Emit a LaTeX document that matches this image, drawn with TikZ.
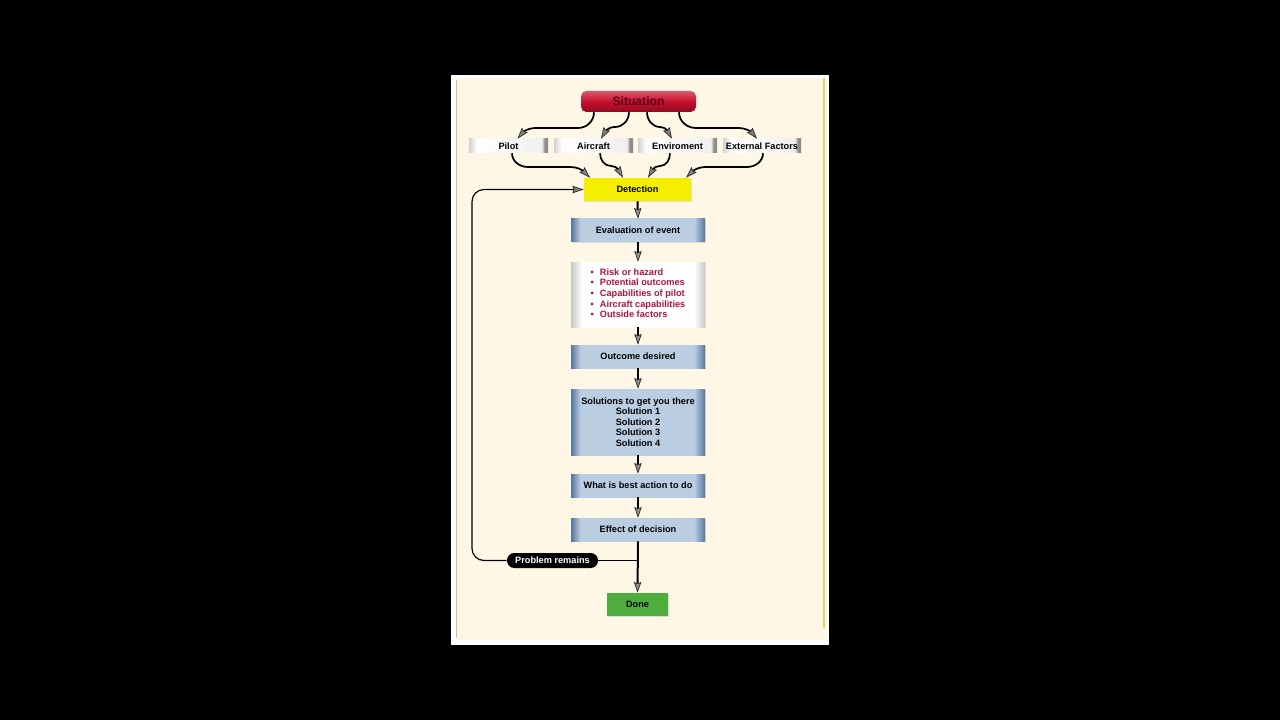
\documentclass[tikz,border=0pt]{standalone}
\usepackage{fontspec}
\setmainfont{Liberation Sans}
\usetikzlibrary{arrows.meta,calc,shadows}
\definecolor{cream}{HTML}{FEF7E6}
\definecolor{bdk}{HTML}{56769E}
\definecolor{blt}{HTML}{BACDE1}
\definecolor{sitred}{HTML}{C8102E}
\definecolor{sitdk}{HTML}{8E0A22}
\definecolor{sittxt}{HTML}{5A0014}
\definecolor{bullred}{HTML}{B0133A}
\definecolor{detyel}{HTML}{F4EF00}
\definecolor{donegreen}{HTML}{4FAD3E}
\definecolor{edgeyel}{HTML}{D9D66A}
\pgfdeclarehorizontalshading{bluebar}{100bp}{color(0bp)=(bdk); color(25bp)=(bdk); color(28.5bp)=(blt); color(71bp)=(blt); color(75bp)=(bdk); color(100bp)=(bdk)}
\pgfdeclarehorizontalshading{whitebar}{100bp}{color(0bp)=(black!18); color(25bp)=(black!18); color(30bp)=(white); color(71bp)=(black!6); color(73bp)=(black!45); color(75bp)=(black!45); color(100bp)=(black!45)}
\pgfdeclarehorizontalshading{bulletbar}{100bp}{color(0bp)=(black!22); color(25bp)=(black!22); color(29bp)=(white); color(71bp)=(white); color(75bp)=(black!22); color(100bp)=(black!22)}
\tikzset{
  every node/.style={font=\bfseries\fontsize{6.9}{8}\selectfont, inner sep=0pt},
  bluebox/.style={rectangle, shading=bluebar, minimum width=100.5pt, minimum height=17.25pt, drop shadow={shadow xshift=0.6pt, shadow yshift=-0.6pt, opacity=0.25}},
  rowbox/.style={rectangle, shading=whitebar, minimum width=59.25pt, minimum height=10.5pt},
  tipA/.tip={Stealth[length=8.5pt, width=5.5pt, fill=black!50, color=black!85, line width=0.5pt, inset=1pt]},
  tipB/.tip={Stealth[length=8pt, width=5.5pt, fill=black!45, color=black!85, line width=0.5pt, inset=1pt]},
  conn/.style={draw=black, line width=1.3pt, -tipA},
  vconn/.style={draw=black, line width=1.5pt, -tipB},
  loopline/.style={draw=black, line width=0.9pt},
}
\begin{document}
\begin{tikzpicture}[x=0.75pt, y=-0.75pt]
\useasboundingbox (0,0) rectangle (1280,720);
\fill[black] (0,0) rectangle (1280,720);
% panel
\fill[white] (451,75) rectangle (829,645);
\fill[cream] (457,78) rectangle (827,640);
\draw[black!25, line width=0.5pt] (456.5,80) -- (456.5,638);
\draw[edgeyel, line width=1.5pt] (823.5,78) -- (823.5,628);

% nodes
\node[rectangle, rounded corners=4pt, top color=sitred!70!white, bottom color=sitdk, middle color=sitred, minimum width=86.25pt, minimum height=15.75pt, text=sittxt, font=\bfseries\fontsize{9.1}{10}\selectfont] (sit) at (638.5,101.5) {Situation};

\node[rowbox] (pilot) at (508.5,146) {Pilot};
\node[rowbox] (air) at (593.5,146) {Aircraft};
\node[rowbox] (env) at (677.5,146) {Enviroment};
\node[rowbox, minimum width=58.5pt] (ext) at (762,146) {External Factors};

\node[rectangle, fill=detyel, minimum width=80.25pt, minimum height=17.25pt, drop shadow={shadow xshift=0.6pt, shadow yshift=-0.6pt, opacity=0.2}] (det) at (637.5,189.5) {Detection};

\node[bluebox] (eval) at (638,230.5) {Evaluation of event};
\node[rectangle, shading=bulletbar, minimum width=100.5pt, minimum height=48.75pt, text=bullred, drop shadow={shadow xshift=0.6pt, shadow yshift=-0.6pt, opacity=0.2}] (bul) at (638,294.5) {%
  \begin{tabular}{@{}l@{\hspace{4.5pt}}l@{}}
  \textbullet & Risk or hazard\\
  \textbullet & Potential outcomes\\
  \textbullet & Capabilities of pilot\\
  \textbullet & Aircraft capabilities\\
  \textbullet & Outside factors
  \end{tabular}};
\node[bluebox] (outc) at (638,356.5) {Outcome desired};
\node[bluebox, minimum height=49.5pt, align=center, font=\bfseries\fontsize{6.9}{7.9}\selectfont] (sol) at (638,422) {Solutions to get you there\\Solution 1\\Solution 2\\Solution 3\\Solution 4};
\node[bluebox] (best) at (638,485.5) {What is best action to do};
\node[bluebox] (eff) at (638,529.5) {Effect of decision};
\node[rectangle, fill=donegreen, minimum width=45.75pt, minimum height=17.25pt, drop shadow={shadow xshift=0.6pt, shadow yshift=-0.6pt, opacity=0.25}] (done) at (637.5,604.5) {Done};
\node[rectangle, rounded corners=5.5pt, fill=black, text=white, minimum width=68.25pt, minimum height=11.25pt] (pill) at (552.5,560.5) {Problem remains};

% situation -> row
\draw[conn] ($(sit.south)+(-44.5,0)$) to[out=-90,in=0] (578,128) -- (536,128) to[out=180,in=50] ($(pilot.north)+(9,0)$);
\draw[conn] ($(sit.south)+(-9.5,0)$) to[out=-90,in=0] (615,127) to[out=180,in=60] ($(air.north)+(7.5,0)$);
\draw[conn] ($(sit.south)+(8.5,0)$) to[out=-90,in=180] (660,127) to[out=0,in=120] ($(env.north)+(-5.5,0)$);
\draw[conn] ($(sit.south)+(40.5,0)$) to[out=-90,in=180] (696,128) -- (738,128) to[out=0,in=130] ($(ext.north)+(-5,0)$);

% row -> detection
\draw[conn] ($(pilot.south)+(3.5,0)$) to[out=-90,in=180] (528,167) -- (570,167) to[out=0,in=135] ($(det.north)+(-47.5,0)$);
\draw[conn] ($(air.south)+(6.5,0)$) to[out=-90,in=180] (611,166) to[out=0,in=120] ($(det.north)+(-14.5,0)$);
\draw[conn] ($(env.south)+(-7.5,0)$) to[out=-90,in=0] (660,166) to[out=180,in=60] ($(det.north)+(10.5,0)$);
\draw[conn] ($(ext.south)+(1,0)$) to[out=-90,in=0] (747,167) -- (706,167) to[out=180,in=45] ($(det.north)+(48.5,0)$);

% main column
\draw[vconn] (det.south) -- (eval.north);
\draw[vconn] (eval.south) -- (bul.north);
\draw[vconn] (bul.south) -- (outc.north);
\draw[vconn] (outc.south) -- (sol.north);
\draw[vconn] (sol.south) -- (best.north);
\draw[vconn] (best.south) -- (eff.north);
\draw[vconn] (eff.south) -- (done.north);

% loop back
\coordinate (lc) at (472,189.5);
\draw[loopline] (eff.south |- pill.east) -- (pill.east);
\draw[loopline, rounded corners=9pt, -tipA] (pill.west) -| (lc) -- (det.west);
\end{tikzpicture}
\end{document}
